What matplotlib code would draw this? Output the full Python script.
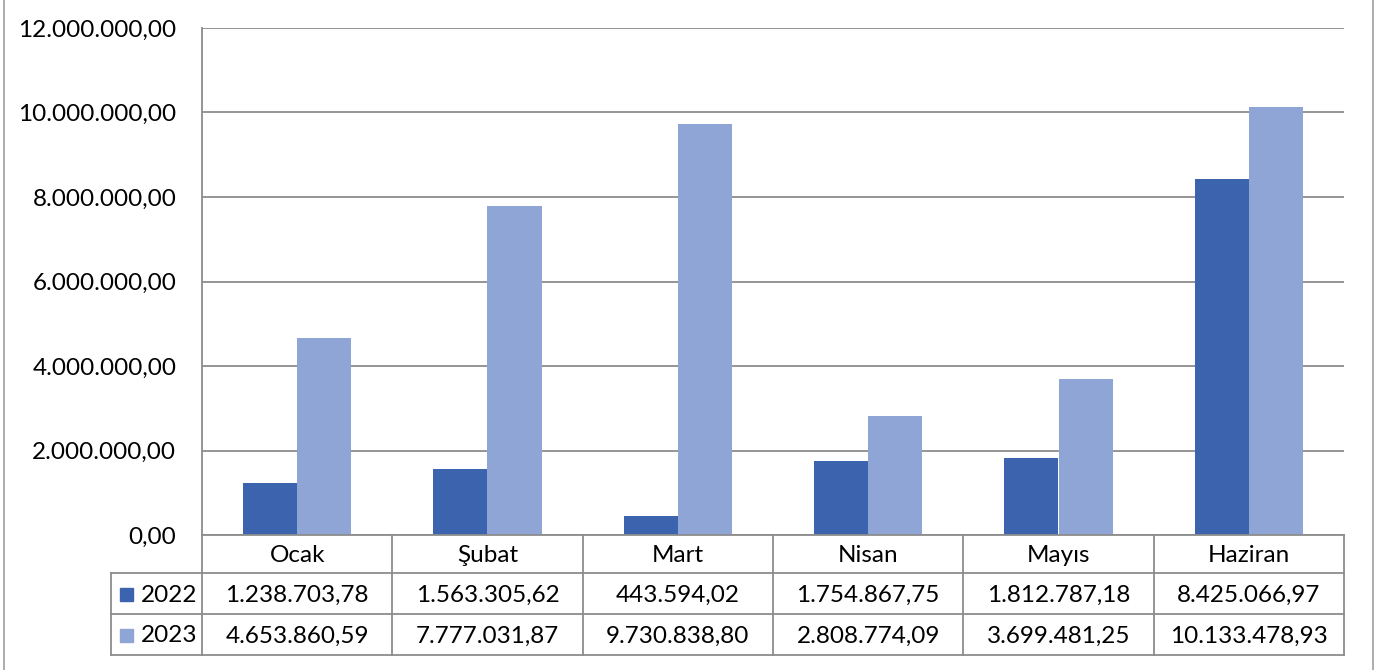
import matplotlib.pyplot as plt
from matplotlib.patches import Rectangle
from matplotlib.lines import Line2D

plt.rcParams["font.family"] = ["Lato", "DejaVu Sans"]

months = ["Ocak", "Şubat", "Mart", "Nisan", "Mayıs", "Haziran"]
series_names = ["2022", "2023"]
values_2022 = [1238703.78, 1563305.62, 443594.02, 1754867.75, 1812787.18, 8425066.97]
values_2023 = [4653860.59, 7777031.87, 9730838.80, 2808774.09, 3699481.25, 10133478.93]
colors = ["#3C64AE", "#8FA5D5"]

W, H = 1391, 670
FS = 17.5


def fmt_tr(v):
    s = f"{v:,.2f}"
    return s.replace(",", "X").replace(".", ",").replace("X", ".")


def fx(x):
    return x / W


def fy(y):
    return 1 - y / H


fig = plt.figure(figsize=(W / 100, H / 100), dpi=100)
ax = fig.add_axes([fx(202), fy(535), fx(1344) - fx(202), fy(28) - fy(535)])

grid_c = "#8C8C8C"
n = len(months)
bw = 0.284
xs = list(range(n))
ax.bar([x - bw / 2 for x in xs], values_2022, width=bw, color=colors[0], zorder=3)
ax.bar([x + bw / 2 for x in xs], values_2023, width=bw, color=colors[1], zorder=3)

ax.set_xlim(-0.5, n - 0.5)
ax.set_ylim(0, 12000000)
ax.set_yticks(range(0, 12000001, 2000000))
ax.set_yticklabels([fmt_tr(v) for v in range(0, 12000001, 2000000)], fontsize=FS)
ax.tick_params(axis="y", length=0, pad=18.5)
ax.set_xticks([])
ax.grid(axis="y", color=grid_c, linewidth=1.3, zorder=0)
for s in ["top", "right", "bottom", "left"]:
    ax.spines[s].set_visible(False)


# data table drawn in figure pixels
def line(x0, y0, x1, y1):
    fig.add_artist(Line2D([fx(x0), fx(x1)], [fy(y0), fy(y1)], color=grid_c, linewidth=1.3))


col_w = (1344 - 202) / n
line(202, 28, 202, 655)
line(111, 573, 111, 655)
for i in range(1, n + 1):
    line(202 + i * col_w, 535, 202 + i * col_w, 655)
line(202, 535, 1344, 535)
for y in [573, 614, 655]:
    line(111, y, 1344, y)

for i, m in enumerate(months):
    fig.text(fx(202 + (i + 0.5) * col_w), fy(555), m, ha="center", va="center", fontsize=FS)
for row, (name, vals) in enumerate(zip(series_names, [values_2022, values_2023])):
    yc = 595 + row * 41
    for i, v in enumerate(vals):
        fig.text(fx(202 + (i + 0.5) * col_w), fy(yc), fmt_tr(v), ha="center", va="center", fontsize=FS)
    fig.add_artist(Rectangle((fx(120), fy(yc + 6)), fx(13), 13 / H, color=colors[row]))
    fig.text(fx(141), fy(yc), name, ha="left", va="center", fontsize=FS)

# outer chart frame
frame_c = "#A6A6A6"
fig.add_artist(Line2D([fx(4), fx(4)], [0, 1], color=frame_c, linewidth=1.3))
fig.add_artist(Line2D([fx(1373), fx(1373)], [0, 1], color=frame_c, linewidth=1.3))

fig.savefig("out.png", dpi=100)
